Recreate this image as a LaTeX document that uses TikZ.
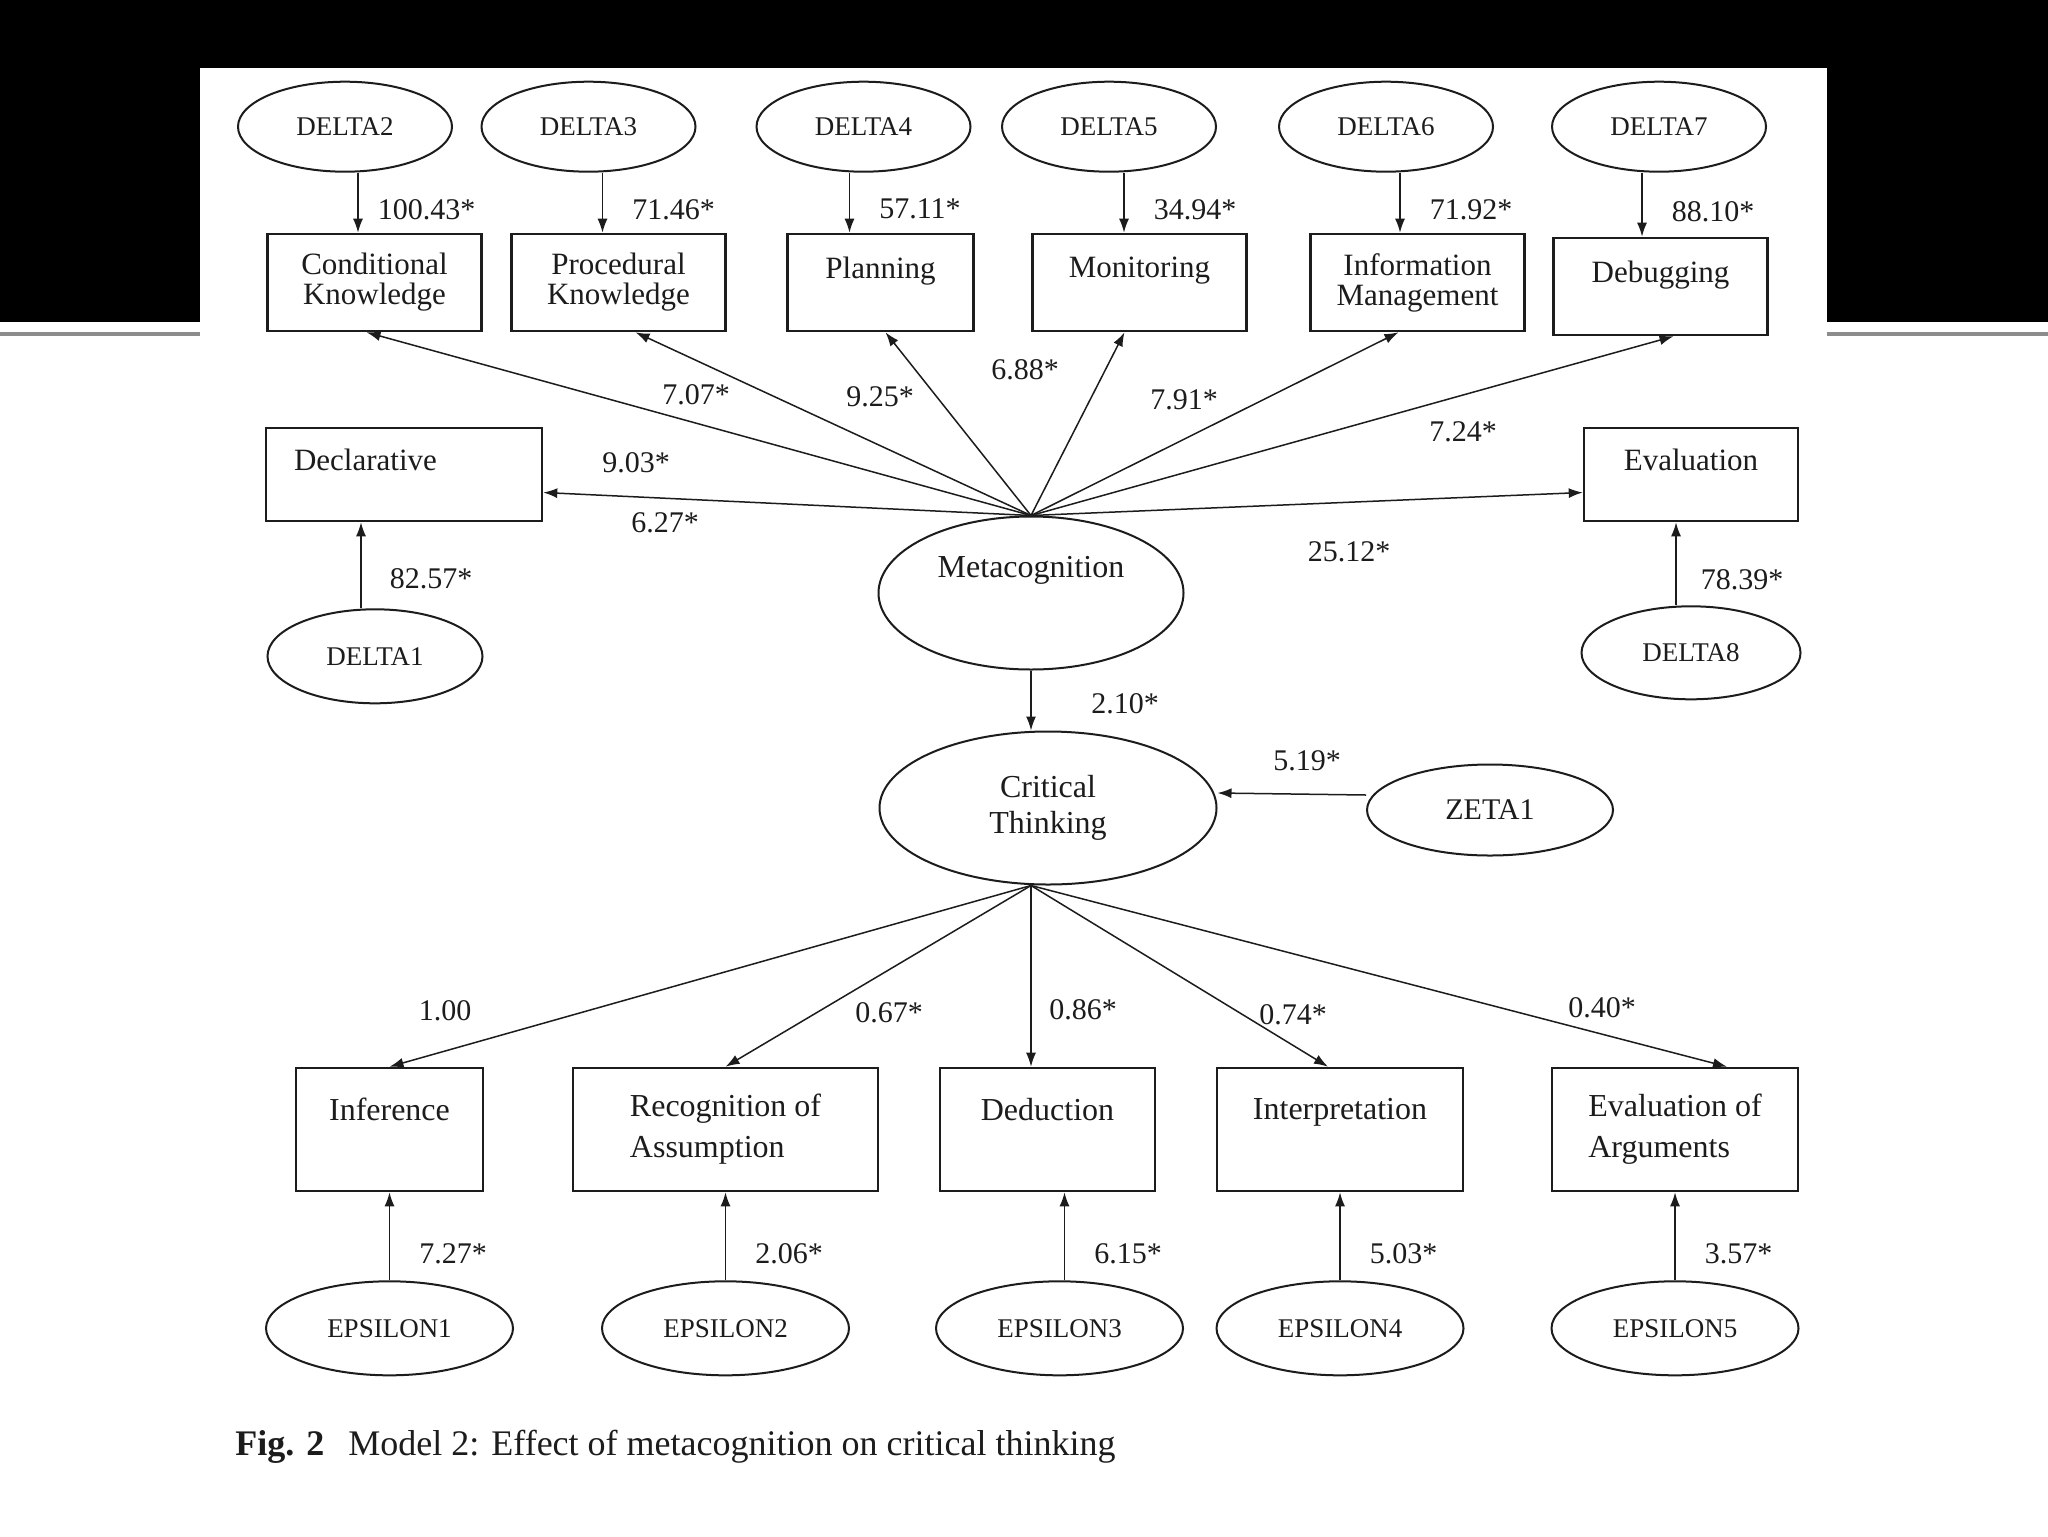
\documentclass[tikz,border=0pt]{standalone}
\usepackage{fontspec}
\setmainfont{Liberation Serif}
\usetikzlibrary{positioning,shapes.geometric,arrows.meta}
\definecolor{ink}{HTML}{1C1C1C}
\definecolor{rule}{HTML}{8C8C8C}
\tikzset{
  kbox/.style={draw=ink, line width=1.3pt, align=center, text=ink,
               minimum width=107pt, minimum height=48.5pt, inner sep=2pt,
               font=\fontsize{15.5}{15}\selectfont},
  cbox/.style={draw=ink, line width=1.3pt, align=left, text=ink,
               minimum height=61.5pt, inner sep=2pt,
               font=\fontsize{16}{20.5}\selectfont},
  err/.style={ellipse, draw=ink, line width=1pt, inner sep=0pt, text=ink,
              minimum width=107pt, minimum height=45pt,
              font=\fontsize{13.5}{13.5}\selectfont},
  eps/.style={err, minimum width=123.5pt, minimum height=47pt},
  lat/.style={ellipse, draw=ink, line width=1pt, align=center, inner sep=0pt,
              minimum width=152.5pt, minimum height=76.5pt, text=ink,
              font=\fontsize{16}{18}\selectfont},
  link/.style={-{Latex[length=7pt,width=5pt]}, line width=0.75pt, draw=ink},
  coef/.style={font=\fontsize{15}{15}\selectfont, text=ink, inner sep=0pt},
}
\begin{document}
\begin{tikzpicture}[x=0.5pt,y=-0.5pt]
  % ---------------------------------------------------------- the slide
  \useasboundingbox (0,0) rectangle (2048,1536);
  \fill[white] (0,0) rectangle (2048,1536);
  \fill[black] (0,0) rectangle (2048,322);
  \draw[rule, line width=2.2pt] (0,334) -- (2048,334);
  \fill[white] (200,68) rectangle (1827,400);

  % ---------------------------------------------------------- metacognition indicators
  \node[kbox] (ck) at (374.5,282.5) {Conditional\\Knowledge};
  \node[kbox, right=13.7pt of ck] (pk) {Procedural\\Knowledge};
  \node[kbox, minimum width=93pt, right=29.7pt of pk] (plan) {Planning\\ \mbox{}};
  \node[kbox, right=28.2pt of plan] (mon) {Monitoring\\ \mbox{}};
  \node[kbox, right=30.7pt of mon] (info) {Information\\Management};
  \node[kbox, right=13.2pt of info, yshift=-2pt] (dbg) {Debugging\\ \mbox{}};

  \node[err, above=30pt of ck, xshift=-14.75pt] (d2) {DELTA2};
  \node[err, above=30pt of pk, xshift=-15pt] (d3) {DELTA3};
  \node[err, above=30pt of plan, xshift=-8.5pt] (d4) {DELTA4};
  \node[err, above=30pt of mon, xshift=-15.25pt] (d5) {DELTA5};
  \node[err, above=30pt of info, xshift=-15.75pt] (d6) {DELTA6};
  \node[err, above=32pt of dbg, xshift=-0.75pt] (d7) {DELTA7};

  \draw[link] ([xshift=6.5pt]d2.south) -- ([xshift=6.5pt]d2.south |- ck.north)
    node[coef, pos=0.61, right=9.5pt] {100.43*};
  \draw[link] ([xshift=7pt]d3.south) -- ([xshift=7pt]d3.south |- pk.north)
    node[coef, pos=0.61, right=14.5pt] {71.46*};
  \draw[link] ([xshift=-7pt]d4.south) -- ([xshift=-7pt]d4.south |- plan.north)
    node[coef, pos=0.61, right=14.5pt] {57.11*};
  \draw[link] ([xshift=7.5pt]d5.south) -- ([xshift=7.5pt]d5.south |- mon.north)
    node[coef, pos=0.61, right=14.5pt] {34.94*};
  \draw[link] ([xshift=7pt]d6.south) -- ([xshift=7pt]d6.south |- info.north)
    node[coef, pos=0.61, right=14.5pt] {71.92*};
  \draw[link] ([xshift=-8.5pt]d7.south) -- ([xshift=-8.5pt]d7.south |- dbg.north)
    node[coef, pos=0.61, right=14.5pt] {88.10*};

  \node[kbox, minimum width=138pt, minimum height=46.5pt, align=left,
        text width=110pt] (decl) at (404,474.5) {Declarative\\ \mbox{}};
  \node[kbox, minimum height=46.5pt] (eval) at (1691,474.5) {Evaluation\\ \mbox{}};
  \node[err, below=43pt of decl, xshift=-14.5pt, minimum width=107.5pt,
        minimum height=47pt] (d1) {DELTA1};
  \node[err, below=41.5pt of eval, minimum width=109.5pt,
        minimum height=46.5pt] (d8) {DELTA8};

  \draw[link] ([xshift=-7pt]d1.north) -- ([xshift=-7pt]d1.north |- decl.south)
    node[coef, pos=0.34, right=14pt] {82.57*};
  \draw[link] ([xshift=-7.5pt]d8.north) -- ([xshift=-7.5pt]d8.north |- eval.south)
    node[coef, pos=0.31, right=12pt] {78.39*};

  % ---------------------------------------------------------- the latent factors
  \node[lat] (meta) at (1031,593) {Metacognition\\[8pt]\mbox{}};
  \node[lat, minimum width=168.5pt] (ct) at (1048,808) {Critical\\Thinking};
  \node[err, minimum width=123pt, minimum height=45.5pt,
        font=\fontsize{15}{15}\selectfont] (zeta) at (1490,810) {ZETA1};
  \coordinate (mtop) at (meta.north);
  \coordinate (ctbot) at (meta.south |- ct.south);

  % loadings of metacognition
  \draw[link] (mtop) -- ([xshift=-4pt]ck.south);
  \draw[link] (mtop) -- ([xshift=8.5pt]pk.south);
  \draw[link] (mtop) -- ([xshift=2.5pt]plan.south);
  \draw[link] (mtop) -- ([xshift=-7.5pt]mon.south);
  \draw[link] (mtop) -- ([xshift=-9.5pt]info.south);
  \draw[link] (mtop) -- ([xshift=6.5pt]dbg.south);
  \draw[link] (mtop) -- ([yshift=-9pt]decl.east);
  \draw[link] (mtop) -- ([yshift=-9pt]eval.west);

  \node[coef] (l707) at (696,395) {7.07*};
  \node[coef] (l925) at (880,397) {9.25*};
  \node[coef] (l688) at (1025,370) {6.88*};
  \node[coef] (l791) at (1184,400) {7.91*};
  \node[coef] (l724) at (1463,432) {7.24*};
  \node[coef] (l903) at (636,463) {9.03*};
  \node[coef] (l627) at (665,523) {6.27*};
  \node[coef] (l2512) at (1349,552) {25.12*};

  % structural path and disturbance
  \draw[link] (meta.south) -- (meta.south |- ct.north);
  \node[coef] (l210) at (1125,704) {2.10*};
  \draw[link] ([yshift=7.5pt]zeta.west) -- ([yshift=7.5pt]ct.east);
  \node[coef] (l519) at (1307,761) {5.19*};

  % ---------------------------------------------------------- critical thinking indicators
  \node[cbox, minimum width=93.5pt] (inf) at (389.5,1129.5) {Inference\\ \mbox{}};
  \node[cbox, minimum width=152.5pt, right=43.7pt of inf] (rec) {Recognition of\\Assumption};
  \node[cbox, minimum width=107.5pt, right=29.7pt of rec] (ded) {Deduction\\ \mbox{}};
  \node[cbox, minimum width=123pt, right=29.7pt of ded] (intp) {Interpretation\\ \mbox{}};
  \node[cbox, minimum width=123pt, right=43.2pt of intp] (evarg) {Evaluation of\\Arguments};

  \draw[link] (ctbot) -- (inf.north);
  \draw[link] (ctbot) -- (rec.north);
  \draw[link] (ctbot) -- (ctbot |- ded.north);
  \draw[link] (ctbot) -- ([xshift=-6pt]intp.north);
  \draw[link] (ctbot) -- ([xshift=26pt]evarg.north);

  \node[coef] (l100) at (445,1011) {1.00};
  \node[coef] (l067) at (889,1013) {0.67*};
  \node[coef] (l086) at (1083,1010) {0.86*};
  \node[coef] (l074) at (1293,1015) {0.74*};
  \node[coef] (l040) at (1602,1008) {0.40*};

  \node[eps, below=44pt of inf] (e1) {EPSILON1};
  \node[eps, below=44pt of rec] (e2) {EPSILON2};
  \node[eps, below=44pt of ded, xshift=6pt] (e3) {EPSILON3};
  \node[eps, below=44pt of intp] (e4) {EPSILON4};
  \node[eps, below=44pt of evarg] (e5) {EPSILON5};

  \draw[link] (e1.north) -- (e1.north |- inf.south)
    node[coef, pos=0.3, right=14.5pt] {7.27*};
  \draw[link] (e2.north) -- (e2.north |- rec.south)
    node[coef, pos=0.3, right=14.5pt] {2.06*};
  \draw[link] ([xshift=2.5pt]e3.north) -- ([xshift=2.5pt]e3.north |- ded.south)
    node[coef, pos=0.3, right=14.5pt] {6.15*};
  \draw[link] (e4.north) -- (e4.north |- intp.south)
    node[coef, pos=0.3, right=14.5pt] {5.03*};
  \draw[link] (e5.north) -- (e5.north |- evarg.south)
    node[coef, pos=0.3, right=14.5pt] {3.57*};

  \node[anchor=west, inner sep=0pt, text=ink, font=\fontsize{18}{18}\selectfont]
    (cap) at (235,1447)
    {\textbf{Fig. 2}\hspace{12pt}Model 2: Effect of metacognition on critical thinking};
\end{tikzpicture}
\end{document}
